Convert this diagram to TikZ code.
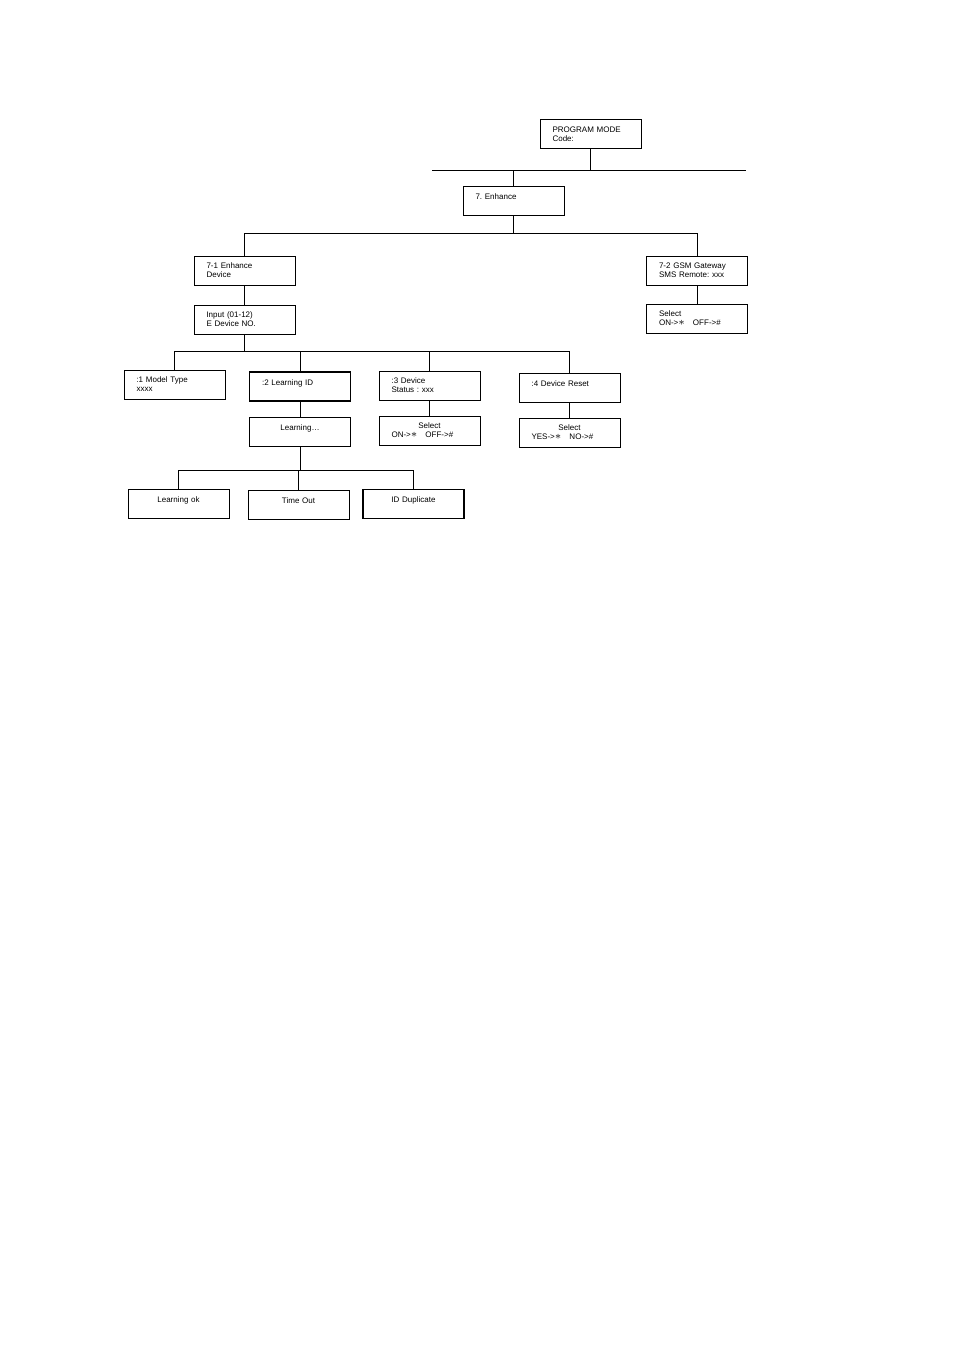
\documentclass[tikz,border=0pt]{standalone}
\usepackage{fontspec}
\setmainfont{Liberation Sans}
\frenchspacing
\newcommand{\astkey}{\smash{\fontsize{7.5pt}{7.5pt}\selectfont$\ast$}}

\begin{document}
\begin{tikzpicture}[x=0.624pt,y=-0.624pt,
	box/.style={draw, line width=0.6pt, minimum width=63pt, minimum height=18.1pt, inner xsep=7.8pt, inner ysep=0pt, text width=47.4pt, align=left, font=\fontsize{5pt}{5.6pt}\selectfont},
	mid/.style={box, align=center},
	single/.style={text depth=5pt},
	heavy/.style={line width=1pt},
	wire/.style={line width=0.6pt}]
	
	\useasboundingbox (0,0) rectangle (954,1350);
	
	% top levels
	\node[box] (pm) at (590.5,134) {PROGRAM MODE\\Code:};
	\node[box,single] (en) at (513.5,200.5) {7. Enhance};
	\node[box] (ed) at (244.5,270.5) {7-1 Enhance\\Device};
	\node[box] (gsm) at (697,270.5) {7-2 GSM Gateway\\SMS Remote: xxx};
	\node[box] (gsel) at (697,318.5) {Select\\ON->\astkey\hspace{5pt}OFF->\#};
	\node[box] (inp) at (244.5,319.5) {Input (01-12)\\E Device NO.};
	
	% device menu
	\node[box] (mt) at (174.5,384.5) {:1 Model Type\\xxxx};
	\node[box,single,heavy] (lid) at (300,386.5) {:2 Learning ID};
	\node[box] (ds) at (429.5,385.5) {:3 Device\\Status : xxx};
	\node[box,single] (dr) at (569.5,387.5) {:4 Device Reset};
	\node[mid,single] (lrn) at (300,431.5) {Learning…};
	\node[mid] (dsel) at (429.5,430.5) {Select\\\makebox[47.4pt][l]{ON->\astkey\hspace{5pt}OFF->\#}};
	\node[mid] (rsel) at (569.5,432.5) {Select\\\makebox[47.4pt][l]{YES->\astkey\hspace{5pt}NO->\#}};
	
	% learning results
	\node[mid,single] (lok) at (178.5,503.5) {Learning ok};
	\node[mid,single] (tout) at (298.5,504.5) {Time Out};
	\node[mid,single,heavy] (dup) at (413.5,504) {ID Duplicate};
	
	% bus lines
	\coordinate (topL) at (432,170);
	\coordinate (topR) at (746,170);
	\coordinate (enbus) at (514,233);
	\coordinate (inbus) at (245,351);
	\coordinate (lrnbus) at (300,470);
	
	\draw[wire] (topL) -- (topR);
	\draw[wire] (pm) -- (pm |- topL);
	\draw[wire] (en) -- (en |- topL);
	
	\draw[wire] (ed |- enbus) -- (gsm |- enbus);
	\draw[wire] (en) -- (en |- enbus);
	\foreach \c in {ed,gsm}
		\draw[wire] (\c) -- (\c |- enbus);
	\draw[wire] (ed) -- (inp);
	\draw[wire] (gsm) -- (gsel);
	
	\draw[wire] (mt |- inbus) -- (dr |- inbus);
	\draw[wire] (inp) -- (inp |- inbus);
	\foreach \c in {mt,lid,ds,dr}
		\draw[wire] (\c) -- (\c |- inbus);
	\draw[wire] (lid) -- (lrn);
	\draw[wire] (ds) -- (dsel);
	\draw[wire] (dr) -- (rsel);
	
	\draw[wire] (lok |- lrnbus) -- (dup |- lrnbus);
	\draw[wire] (lrn) -- (lrn |- lrnbus);
	\foreach \c in {lok,tout,dup}
		\draw[wire] (\c) -- (\c |- lrnbus);
\end{tikzpicture}
\end{document}
